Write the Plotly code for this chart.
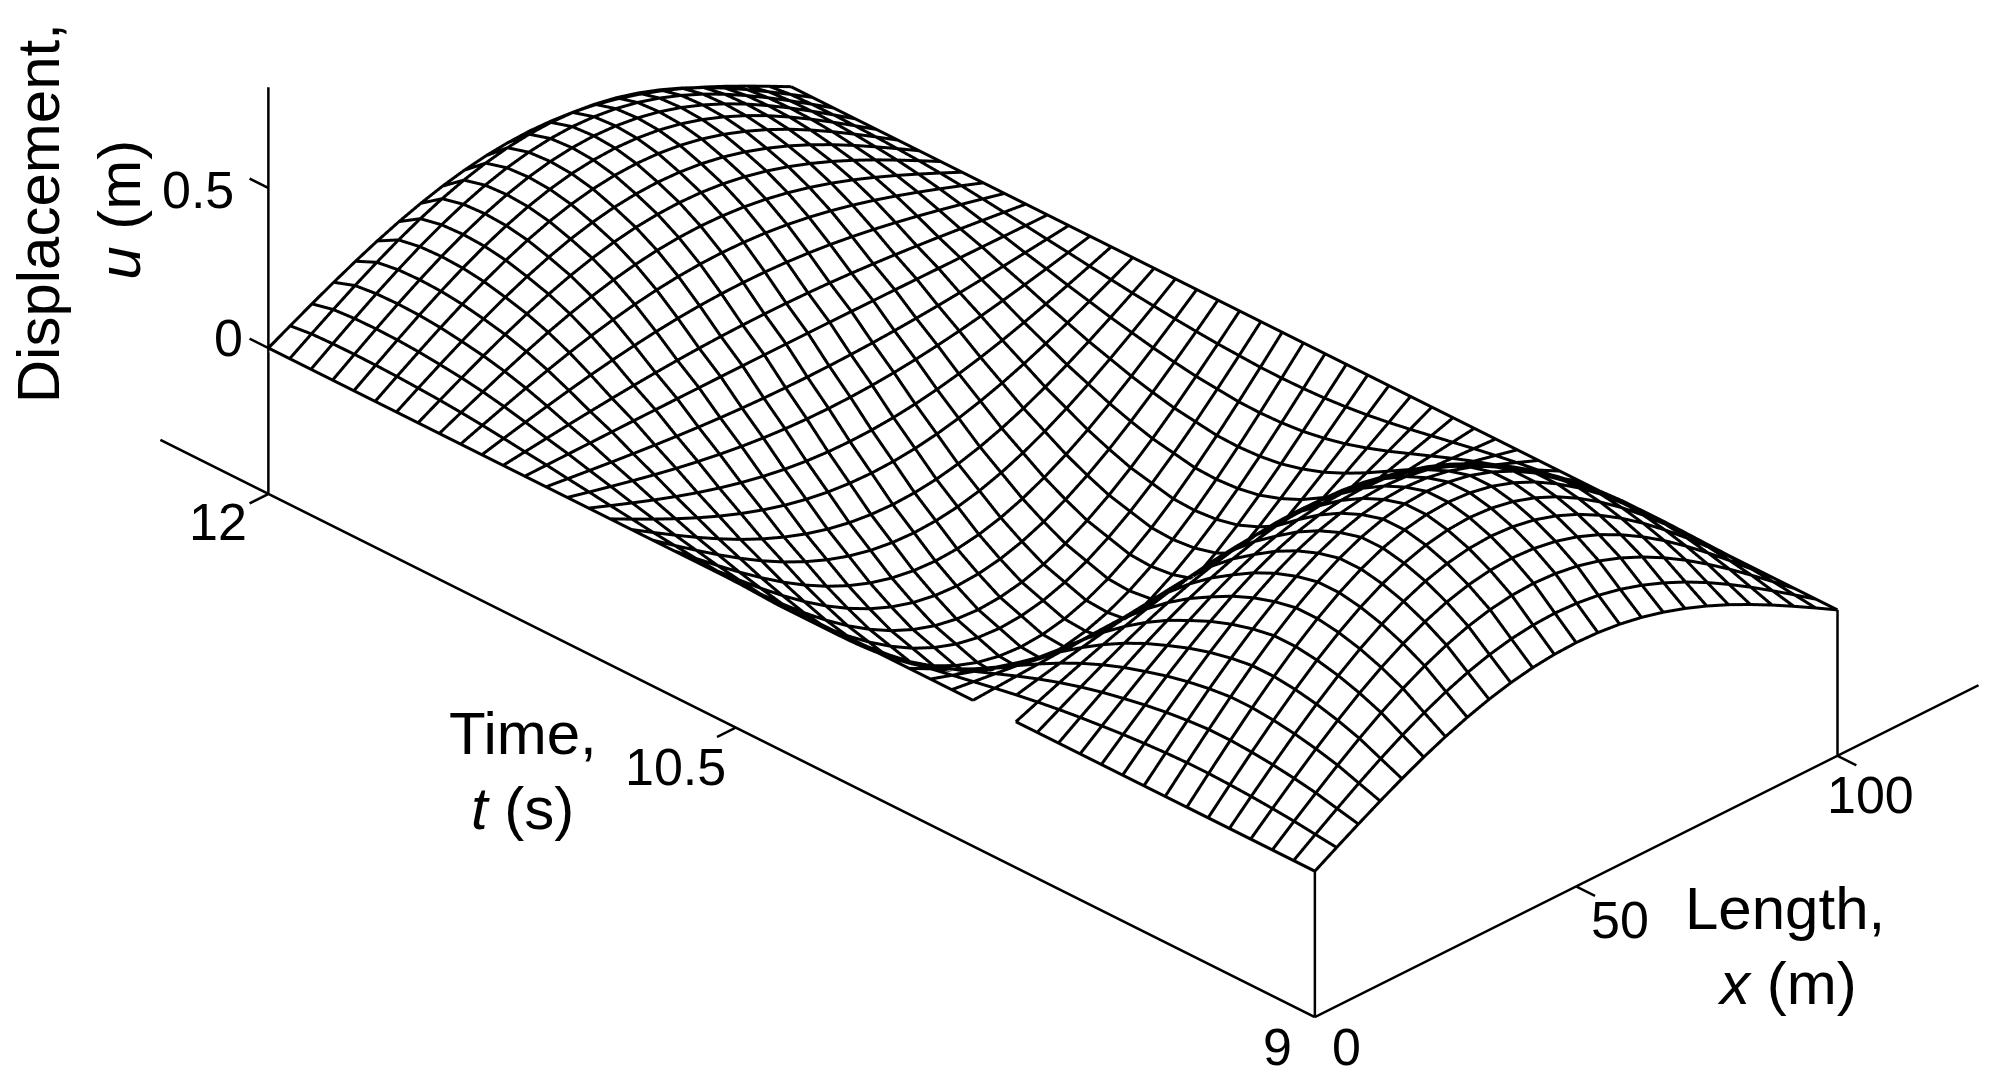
import numpy as np
import plotly.graph_objects as go

# Grid: 24 cells along x, 49 cells along t.
x_m = [0, 4.167, 8.333, 12.5, 16.667, 20.833, 25, 29.167, 33.333, 37.5, 41.667, 45.833, 50, 54.167, 58.333, 62.5,
       66.667, 70.833, 75, 79.167, 83.333, 87.5, 91.667, 95.833, 100]
t_s = [9.000, 9.061, 9.122, 9.184, 9.245, 9.306, 9.367, 9.429, 9.490, 9.551, 9.612, 9.673, 9.735, 9.796, 9.857,
       9.918, 9.980, 10.041, 10.102, 10.163, 10.224, 10.286, 10.347, 10.408, 10.469, 10.531, 10.592, 10.653,
       10.714, 10.776, 10.837, 10.898, 10.959, 11.020, 11.082, 11.143, 11.204, 11.265, 11.327, 11.388, 11.449,
       11.510, 11.571, 11.633, 11.694, 11.755, 11.816, 11.878, 11.939, 12.000]
span_shape = [0, .131, .259, .383, .5, .609, .707, .793, .866, .924, .966, .991, 1, .991, .966, .924, .866, .793,
              .707, .609, .5, .383, .259, .131, 0]
# Mid-span displacement (m) at each time gridline, read by tracing mesh nodes near mid-span.
midspan_u = [.306, .365, .425, .47, .505, .53, .545, .545, .525, .495, .455, .405, .35, .285, .21, .125, .03, -.07,
             -.17, -.27, -.36, -.44, -.50, -.545, -.57, -.58, -.575, -.55, -.525, -.485, -.44, -.385, -.33, -.265,
             -.20, -.13, -.065, .005, .065, .13, .19, .24, .28, .31, .335, .35, .355, .35, .33, .27]
u_m = np.outer(midspan_u, span_shape)

z_floor = -0.456
x_end = 127
t_end = 12.31
z_top = 0.815
face_offset = 0.012

fig = go.Figure()
fig.add_trace(go.Surface(
    x=x_m, y=t_s, z=u_m - face_offset, showscale=False, hoverinfo="skip",
    colorscale=[[0, "white"], [1, "white"]],
    lighting=dict(ambient=1, diffuse=0, specular=0, fresnel=0, roughness=1),
    contours=dict(x=dict(highlight=False), y=dict(highlight=False), z=dict(highlight=False)),
))

# Mesh lines drawn as one 3D line trace, gridline by gridline.
mx, my, mz = [], [], []
for j, t in enumerate(t_s):
    mx += x_m + [None]
    my += [t] * len(x_m) + [None]
    row = [float(v) for v in u_m[j]]
    if j == 15:
        row[0] = None  # this stub is absent at the gap in the reference's near edge
    mz += row + [None]
for i, x in enumerate(x_m):
    mx += [x] * len(t_s) + [None]
    my += t_s + [None]
    col = [float(v) for v in u_m[:, i]]
    if i == 0:
        col[15] = None  # gap in the reference's near edge
    mz += col + [None]
fig.add_trace(go.Scatter3d(x=mx, y=my, z=mz, mode="lines", hoverinfo="skip", showlegend=False,
                           line=dict(color="black", width=6), connectgaps=False))

def line(xs, ys, zs, w=5):
    fig.add_trace(go.Scatter3d(x=xs, y=ys, z=zs, mode="lines", hoverinfo="skip", showlegend=False,
                               line=dict(color="black", width=w)))

line([0, 0], [9, t_end], [z_floor, z_floor])
line([0, x_end], [9, 9], [z_floor, z_floor])
line([0, 0], [12, 12], [z_floor, z_top])
line([0, 0], [9, 9], [z_floor, 0])
line([100, 100], [9, 9], [z_floor, 0])
for z in [0, 0.5]:
    line([0, 0], [12, 12.054], [z, z])
for t in [12, 10.66]:
    line([0, -3.6], [t, t], [z_floor, z_floor])
for x in [50, 100]:
    line([x, x], [9, 8.946], [z_floor, z_floor])

tick_font = dict(family="Liberation Sans, Arial", size=52, color="black")
title_font = dict(family="Liberation Sans, Arial", size=60, color="black")

def tick(x, y, z, text, dx, dy):
    return dict(x=x, y=y, z=z, text=text, showarrow=False, xshift=dx, yshift=dy, font=tick_font)

scene_notes = [
    tick(0, 12, 0.5, "0.5", -70, -2),
    tick(0, 12, 0, "0", -40, 10),
    tick(0, 12, z_floor, "12", -50, -28),
    tick(0, 10.66, z_floor, "10.5", -60, -39),
    tick(0, 9, z_floor, "9", -37, -30),
    tick(0, 9, z_floor, "0", 32, -30),
    tick(50, 9, z_floor, "50", 44, -34),
    tick(100, 9, z_floor, "100", 33, -39),
]

def sx(v):
    return v * 1.269 / 1990

def sy(v):
    return 1 - v * 1.269 / 1086

def title(x, y, text, angle=0):
    return dict(x=sx(x), y=sy(y), xref="paper", yref="paper", text=text, showarrow=False, textangle=angle,
                font=title_font, xanchor="center", yanchor="middle")

fig.update_layout(
    width=1990, height=1086, margin=dict(l=0, r=0, t=0, b=0), paper_bgcolor="white", showlegend=False,
    annotations=[
        title(30, 168, "Displacement,", -90),
        title(94, 165, "<i>u</i> (m)", -90),
        title(412, 578, "Time,"),
        title(412, 637, "<i>t</i> (s)"),
        title(1407, 716, "Length,"),
        title(1408, 775, "<i>x</i> (m)"),
    ],
    scene=dict(
        domain=dict(x=[0, 1], y=[0, 1]),
        xaxis=dict(visible=False, range=[-6, x_end]),
        yaxis=dict(visible=False, range=[8.9, t_end]),
        zaxis=dict(visible=False, range=[-0.7, z_top]),
        aspectmode="manual",
        aspectratio=dict(x=1.8103, y=3.0979, z=1.031),
        bgcolor="white",
        camera=dict(projection=dict(type="orthographic"), up=dict(x=0, y=0, z=1),
                    center=dict(x=-0.1548, y=0.0436, z=-0.2272),
                    eye=dict(x=-2.6548, y=-2.4564, z=1.8138)),
        annotations=scene_notes,
    ),
)
fig.write_html("out.html", config=dict(displayModeBar=False),
               post_script="document.body.style.margin='0';")
